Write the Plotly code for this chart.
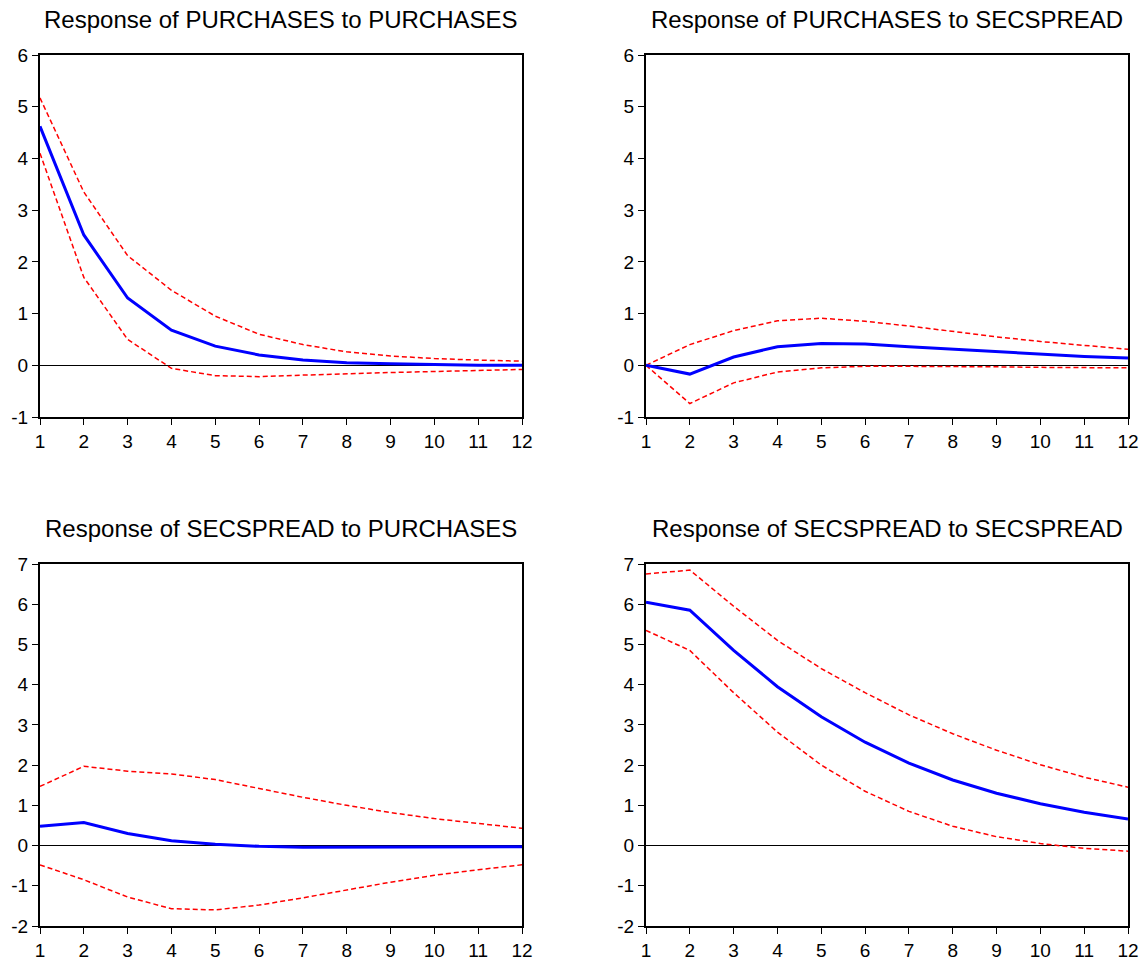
import plotly.graph_objects as go

periods = list(range(1, 13))

titles = [
    "Response of PURCHASES to PURCHASES",
    "Response of PURCHASES to SECSPREAD",
    "Response of SECSPREAD to PURCHASES",
    "Response of SECSPREAD to SECSPREAD",
]

pp_resp = [4.62, 2.52, 1.30, 0.68, 0.37, 0.20, 0.10, 0.05, 0.03, 0.01, 0.00, 0.00]
pp_up = [5.17, 3.35, 2.12, 1.45, 0.95, 0.60, 0.40, 0.26, 0.18, 0.13, 0.10, 0.08]
pp_lo = [4.10, 1.70, 0.50, -0.06, -0.20, -0.22, -0.19, -0.16, -0.14, -0.12, -0.10, -0.08]

ps_resp = [0.00, -0.17, 0.16, 0.36, 0.42, 0.41, 0.36, 0.31, 0.26, 0.21, 0.17, 0.14]
ps_up = [0.00, 0.40, 0.67, 0.86, 0.91, 0.85, 0.76, 0.65, 0.55, 0.46, 0.38, 0.31]
ps_lo = [0.00, -0.74, -0.34, -0.13, -0.05, -0.02, -0.02, -0.02, -0.03, -0.04, -0.05, -0.05]

sp_resp = [0.48, 0.57, 0.30, 0.12, 0.03, -0.02, -0.04, -0.04, -0.04, -0.03, -0.03, -0.03]
sp_up = [1.47, 1.97, 1.85, 1.78, 1.64, 1.42, 1.20, 1.00, 0.82, 0.67, 0.55, 0.43]
sp_lo = [-0.48, -0.85, -1.28, -1.57, -1.60, -1.48, -1.30, -1.10, -0.91, -0.74, -0.60, -0.48]

ss_resp = [6.05, 5.85, 4.85, 3.95, 3.20, 2.57, 2.05, 1.63, 1.30, 1.04, 0.83, 0.66]
ss_up = [6.75, 6.85, 5.95, 5.10, 4.40, 3.80, 3.25, 2.78, 2.37, 2.01, 1.70, 1.45]
ss_lo = [5.35, 4.85, 3.80, 2.82, 2.00, 1.35, 0.85, 0.48, 0.22, 0.05, -0.07, -0.14]

yticks_top = [-1, 0, 1, 2, 3, 4, 5, 6]
yticks_bottom = [-2, -1, 0, 1, 2, 3, 4, 5, 6, 7]

panels = [
    (pp_resp, pp_up, pp_lo, yticks_top),
    (ps_resp, ps_up, ps_lo, yticks_top),
    (sp_resp, sp_up, sp_lo, yticks_bottom),
    (ss_resp, ss_up, ss_lo, yticks_bottom),
]

W, H = 1148, 963
xdoms = [[40 / W, 522 / W], [646 / W, 1128 / W]]
ydoms = [[1 - 417 / H, 1 - 55 / H], [1 - 926 / H, 1 - 564 / H]]

fig = go.Figure()
font = "Liberation Sans, Arial, sans-serif"
layout = {}
annotations = []
for i, (resp, up, lo, yt) in enumerate(panels):
    row, col = divmod(i, 2)
    n = i + 1
    xa = "x" if n == 1 else f"x{n}"
    ya = "y" if n == 1 else f"y{n}"
    for vals, color, width, dash in [(up, "red", 1.5, "5px,3px"), (lo, "red", 1.5, "5px,3px"), (resp, "blue", 3, "solid")]:
        fig.add_trace(go.Scatter(x=periods, y=vals, mode="lines", xaxis=xa, yaxis=ya,
                                 line=dict(color=color, width=width, dash=dash), showlegend=False))
    axkey = "xaxis" if n == 1 else f"xaxis{n}"
    aykey = "yaxis" if n == 1 else f"yaxis{n}"
    layout[axkey] = dict(domain=xdoms[col], anchor=ya, range=[1, 12], tickmode="array",
                         tickvals=periods, ticktext=[str(p) for p in periods],
                         ticks="outside", ticklen=6, tickcolor="black",
                         showline=True, linecolor="black", linewidth=2, mirror=True,
                         showgrid=False, zeroline=False, automargin=False,
                         tickfont=dict(family=font, size=19, color="black"))
    layout[aykey] = dict(domain=ydoms[row], anchor=xa, range=[yt[0], yt[-1]], tickmode="array",
                         tickvals=yt, ticktext=[str(v) for v in yt],
                         ticks="outside", ticklen=6, tickcolor="black",
                         showline=True, linecolor="black", linewidth=2, mirror=True,
                         showgrid=False, zeroline=True, zerolinecolor="black", zerolinewidth=1,
                         automargin=False,
                         tickfont=dict(family=font, size=19, color="black"))
    cx = (xdoms[col][0] + xdoms[col][1]) / 2
    ty = ydoms[row][1]
    annotations.append(dict(text=titles[i], x=cx, y=ty, xref="paper", yref="paper",
                            xanchor="center", yanchor="bottom", yshift=20, showarrow=False,
                            font=dict(family=font, size=24, color="black")))

fig.update_layout(**layout)
fig.update_layout(width=W, height=H, margin=dict(l=0, r=0, t=0, b=0, autoexpand=False),
                  plot_bgcolor="white", paper_bgcolor="white", annotations=annotations)

fig.write_html("out.html")
